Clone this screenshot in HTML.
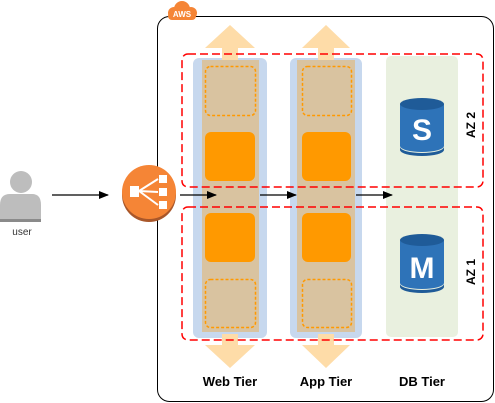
<!DOCTYPE html>
<html><head><style>html,body{margin:0;padding:0;background:#fff}svg{display:block}</style></head><body>
<svg width="495" height="403" viewBox="0 0 495 403" xmlns="http://www.w3.org/2000/svg" font-family="Liberation Sans, sans-serif">
<defs><marker id="a" markerWidth="10" markerHeight="8" refX="9" refY="4" orient="auto" markerUnits="userSpaceOnUse"><path d="M0,0 L10,4 L0,8 z" fill="#000"/></marker></defs>
<!-- container -->
<rect x="157.5" y="16.5" width="336" height="385" rx="12" fill="#fff" stroke="#000"/>
<g fill="#f58536"><circle cx="174" cy="13" r="6"/><circle cx="182" cy="9" r="8"/><circle cx="191" cy="13" r="6"/><rect x="168" y="12" width="28" height="8" rx="4"/></g>
<text x="182" y="17" font-size="8" fill="#fff" text-anchor="middle" font-weight="bold">AWS</text>
<!-- columns -->
<g>
<rect x="193" y="58" width="74" height="280" rx="6" fill="#c7d8ee"/>
<rect x="202" y="60" width="57" height="272" fill="#d9c3a0"/>
<rect x="290" y="58" width="72" height="280" rx="6" fill="#c7d8ee"/>
<rect x="297" y="60" width="58" height="272" fill="#d9c3a0"/>
<rect x="386" y="56" width="72" height="281" rx="5" fill="#e9f0df"/>
</g>
<!-- up/down arrows -->
<g fill="#fedca8">
<path d="M205,48 L230,25 L255,48 L238,48 L238,60 L222,60 L222,48 z"/>
<path d="M302,48 L326,25 L350,48 L334,48 L334,60 L318,60 L318,48 z"/>
<path d="M205,345 L230,368 L255,345 L238,345 L238,334 L222,334 L222,345 z"/>
<path d="M302,345 L326,368 L350,345 L334,345 L334,334 L318,334 L318,345 z"/>
</g>
<!-- instances -->
<g fill="none" stroke="#f90" stroke-width="1.5" stroke-dasharray="3,2">
<rect x="205.5" y="66.5" width="50" height="49" rx="5"/>
<rect x="302.5" y="66.5" width="49" height="49" rx="5"/>
<rect x="205.5" y="279.5" width="50" height="48" rx="5"/>
<rect x="302.5" y="279.5" width="49" height="48" rx="5"/>
</g>
<g fill="#f90">
<rect x="205" y="132" width="50" height="49" rx="6"/>
<rect x="302" y="132" width="49" height="49" rx="6"/>
<rect x="205" y="213" width="50" height="49" rx="6"/>
<rect x="302" y="213" width="49" height="49" rx="6"/>
</g>
<!-- AZ boxes -->
<g fill="none" stroke="#f00" stroke-width="1.5" stroke-dasharray="8,4">
<rect x="182" y="54" width="301" height="133" rx="6"/>
<rect x="182" y="207" width="301" height="133" rx="6"/>
</g>
<text transform="translate(475,125) rotate(-90)" font-size="12" font-weight="bold" text-anchor="middle">AZ 2</text>
<text transform="translate(475,272) rotate(-90)" font-size="12" font-weight="bold" text-anchor="middle">AZ 1</text>
<!-- DB icons -->
<g>
<path d="M400,104 L400,146 A22,6 0 0 0 444,146 L444,104 z" fill="#2e73b8"/>
<path d="M400,147 A22,6 0 0 0 444,147 L444,150 A22,6 0 0 1 400,150 z" fill="#1f5b98"/>
<ellipse cx="422" cy="104" rx="22" ry="6" fill="#1f5b98"/>
<text x="422" y="140" font-size="30" font-weight="bold" fill="#fff" text-anchor="middle">S</text>
<path d="M400,240 L400,283 A22,6 0 0 0 444,283 L444,240 z" fill="#2e73b8"/>
<path d="M400,284 A22,6 0 0 0 444,284 L444,287 A22,6 0 0 1 400,287 z" fill="#1f5b98"/>
<ellipse cx="422" cy="240" rx="22" ry="6" fill="#1f5b98"/>
<text x="422" y="278" font-size="30" font-weight="bold" fill="#fff" text-anchor="middle">M</text>
</g>
<!-- user -->
<g fill="#bdbdbd">
<circle cx="21" cy="182" r="11"/>
<path d="M0,222 L0,205 Q0,194 10,194 L32,194 Q41,194 41,205 L41,222 z"/>
<rect x="0" y="219" width="41" height="3" fill="#8a8a8a"/>
</g>
<text x="22" y="235" font-size="10" fill="#333" text-anchor="middle">user</text>
<!-- ELB -->
<circle cx="149" cy="195" r="27" fill="#a9572a"/>
<circle cx="149" cy="192" r="27" fill="#f58536"/>
<g fill="#fff" stroke="#fff">
<rect x="130" y="186" width="9" height="11" stroke="none"/>
<rect x="159" y="175" width="8" height="8" stroke="none"/>
<rect x="159" y="188" width="8" height="8" stroke="none"/>
<rect x="159" y="201" width="8" height="8" stroke="none"/>
<path d="M139,191 L158,179 M139,191 L158,192 M139,191 L158,205" stroke-width="2" fill="none"/>
</g>
<!-- flow arrows -->
<g stroke="#000" stroke-width="1.2" marker-end="url(#a)">
<line x1="52" y1="195" x2="108" y2="195"/>
<line x1="180" y1="195" x2="216" y2="195"/>
<line x1="260" y1="195" x2="296" y2="195"/>
<line x1="356" y1="195" x2="392" y2="195"/>
</g>
<!-- labels -->
<g font-size="13" font-weight="bold" text-anchor="middle" fill="#000">
<text x="230" y="386">Web Tier</text>
<text x="326" y="386">App Tier</text>
<text x="422" y="386">DB Tier</text>
</g>
</svg>
</body></html>
